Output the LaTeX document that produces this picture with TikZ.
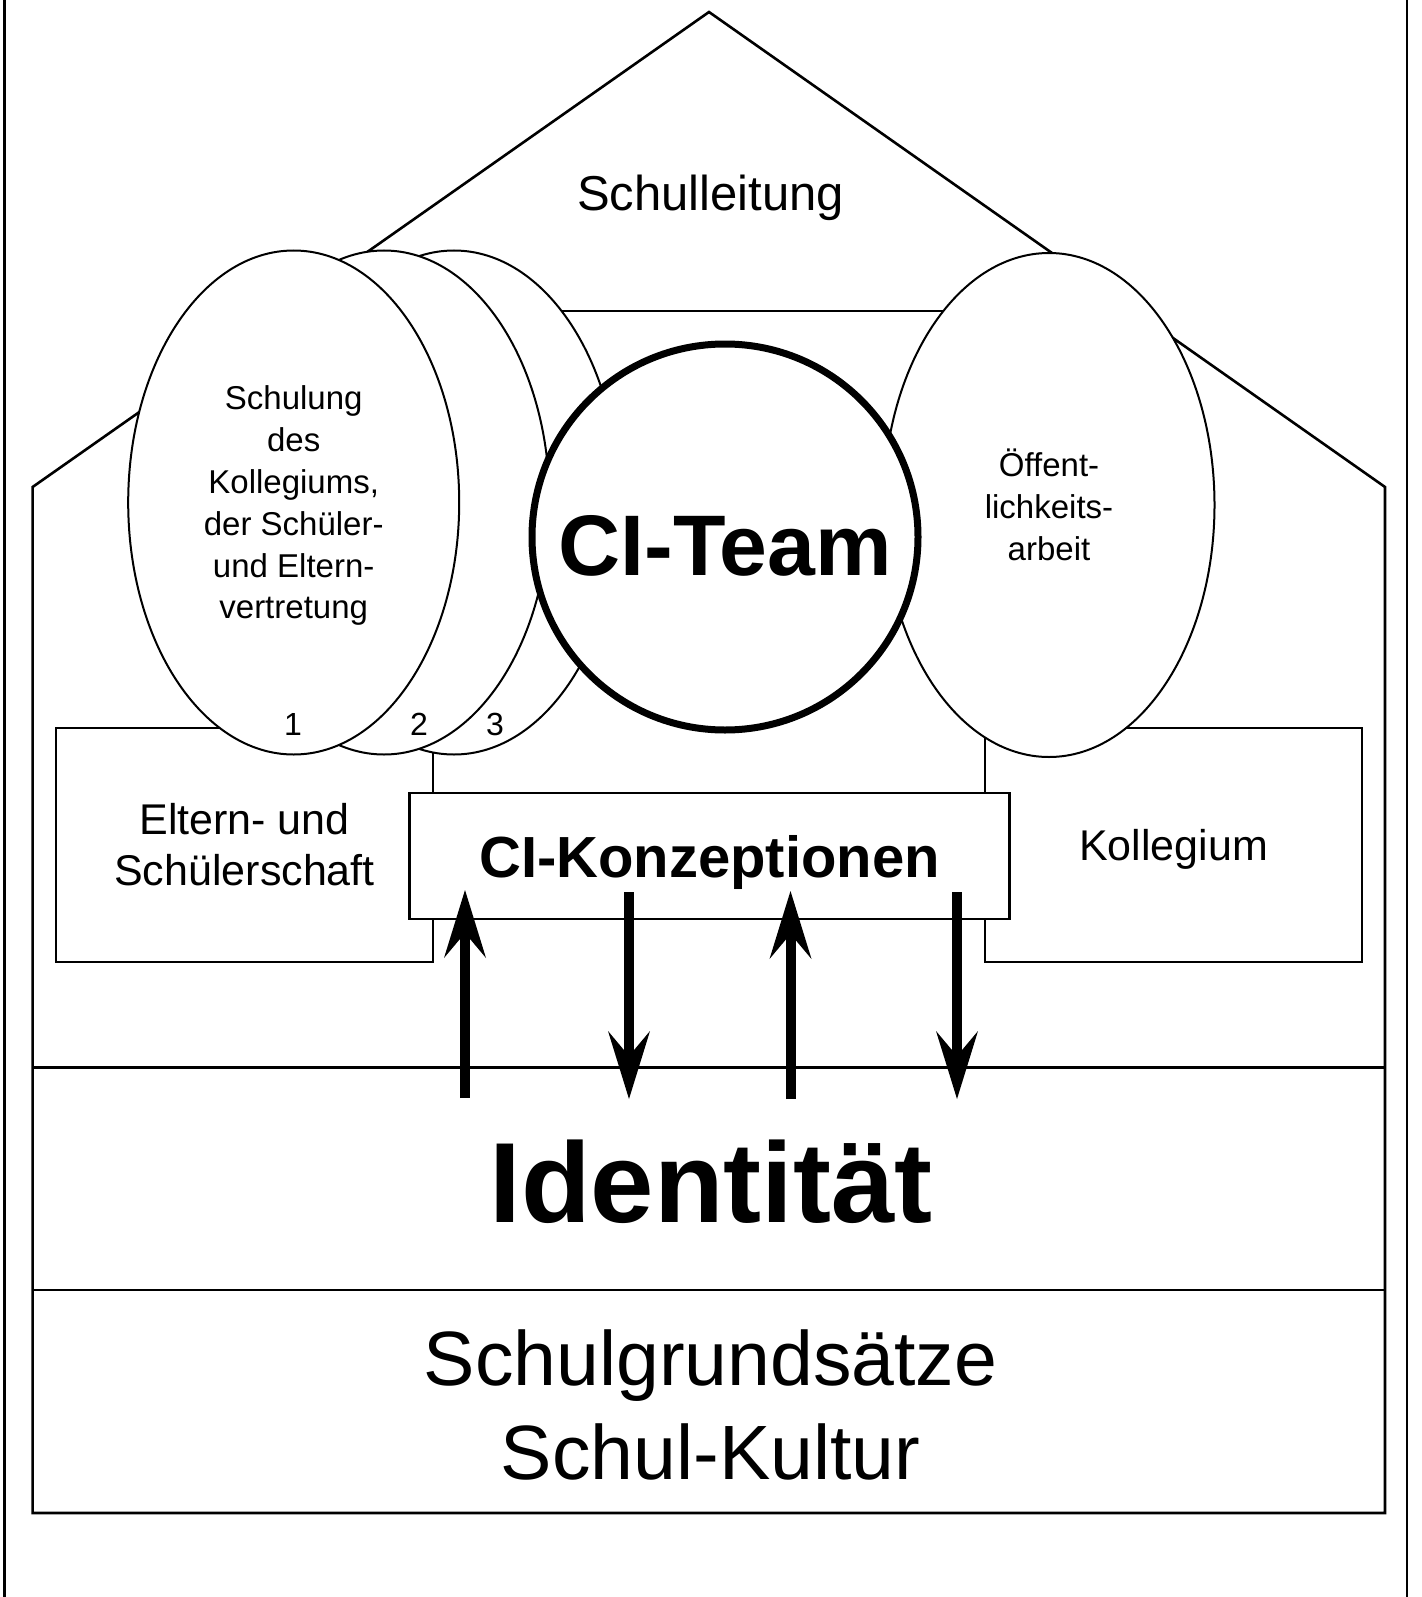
\documentclass[tikz,border=0pt]{standalone}
\usepackage{fontspec}
\setmainfont{Liberation Sans}
\usepackage{tikz}
\usetikzlibrary{arrows.meta,shapes.geometric}

\begin{document}
\begin{tikzpicture}[%
  x=1pt, y=-1pt,
  wand/.style={line width=2.6pt},
  kasten/.style={
    draw,
    line width=2.4pt,
    minimum width=377pt,
    minimum height=234pt,
    align=center,
    font=\fontsize{43}{51}\selectfont},
  blase/.style={
    ellipse,
    draw,
    fill=white,
    line width=2pt,
    inner sep=0pt,
    minimum width=331pt,
    minimum height=504pt,
    align=center,
    font=\fontsize{33}{41.8}\selectfont},
  nummer/.style={anchor=base, font=\fontsize{32}{38}\selectfont},
  pil/.style={
    line width=10pt,
    -{Stealth[length=68pt,width=42pt,inset=25pt,line width=0pt]}}
  ]
  \useasboundingbox (0,0) rectangle (1421,1597);
  %% Rahmen und Haus
  \draw[wand] (4.5,0) -- (4.5,1597);
  \draw[wand] (1407,0) -- (1407,1597);
  \draw[wand] (32.6,1513) -- (32.6,487) -- (709,12) -- (1385,487) -- (1385,1513) -- cycle;
  \draw[wand] (32.6,1067.5) -- (1385,1067.5);
  \draw[wand] (32.6,1290) -- (1385,1290);
  \draw[wand] (433,311) -- (985,311);
  %% Nodes
  \node[anchor=base, font=\fontsize{49}{58}\selectfont] (SL) at (710.5,211) {Schulleitung};
  \node[kasten] (ES) at (244.5,845) {Eltern- und\\Schülerschaft};
  \node[kasten, text depth=0pt] (KO) at (1173.5,845) {Kollegium};
  \node[blase] (S3) at (454,502.5) {};
  \node[blase] (S2) at (384,502.5) {};
  \node[blase, text depth=0pt] (S1) at (293.7,502.5) {Schulung\\des\\Kollegiums,\\der Schüler-\\und Eltern-\\vertretung};
  \node[blase] (OA) at (1049,505) {Öffent-\\lichkeits-\\arbeit};
  \node[circle, draw, fill=white, line width=7pt, minimum size=386pt,
    text height=77pt, text depth=0pt,
    font=\fontsize{86}{100}\bfseries] (CT) at (725,537) {CI-Team};
  \node[draw, fill=white, line width=2.4pt, minimum width=600pt, minimum height=126pt,
    text depth=0pt, font=\fontsize{58}{68}\bfseries] (KZ) at (709.5,856) {CI-Konzeptionen};
  \node[nummer] (N1) at (293,735) {1};
  \node[nummer] (N2) at (419,735) {2};
  \node[nummer] (N3) at (495,735) {3};
  \node[anchor=base, font=\fontsize{114}{130}\bfseries] (ID) at (711,1222) {Identität};
  \node[align=center, font=\fontsize{77}{94}\selectfont] (SG) at (710.5,1404.5) {Schulgrundsätze\\Schul-Kultur};
  %% Pfeile
  \coordinate (P1u) at (465,1098);
  \coordinate (P1o) at (465,890);
  \coordinate (P2o) at (629,892);
  \coordinate (P2u) at (629,1099);
  \coordinate (P3u) at (790.5,1099);
  \coordinate (P3o) at (790.5,891);
  \coordinate (P4o) at (957,892);
  \coordinate (P4u) at (957,1099);
  \draw[pil] (P1u) -- (P1o);
  \draw[pil] (P2o) -- (P2u);
  \draw[pil] (P3u) -- (P3o);
  \draw[pil] (P4o) -- (P4u);
\end{tikzpicture}
\end{document}
